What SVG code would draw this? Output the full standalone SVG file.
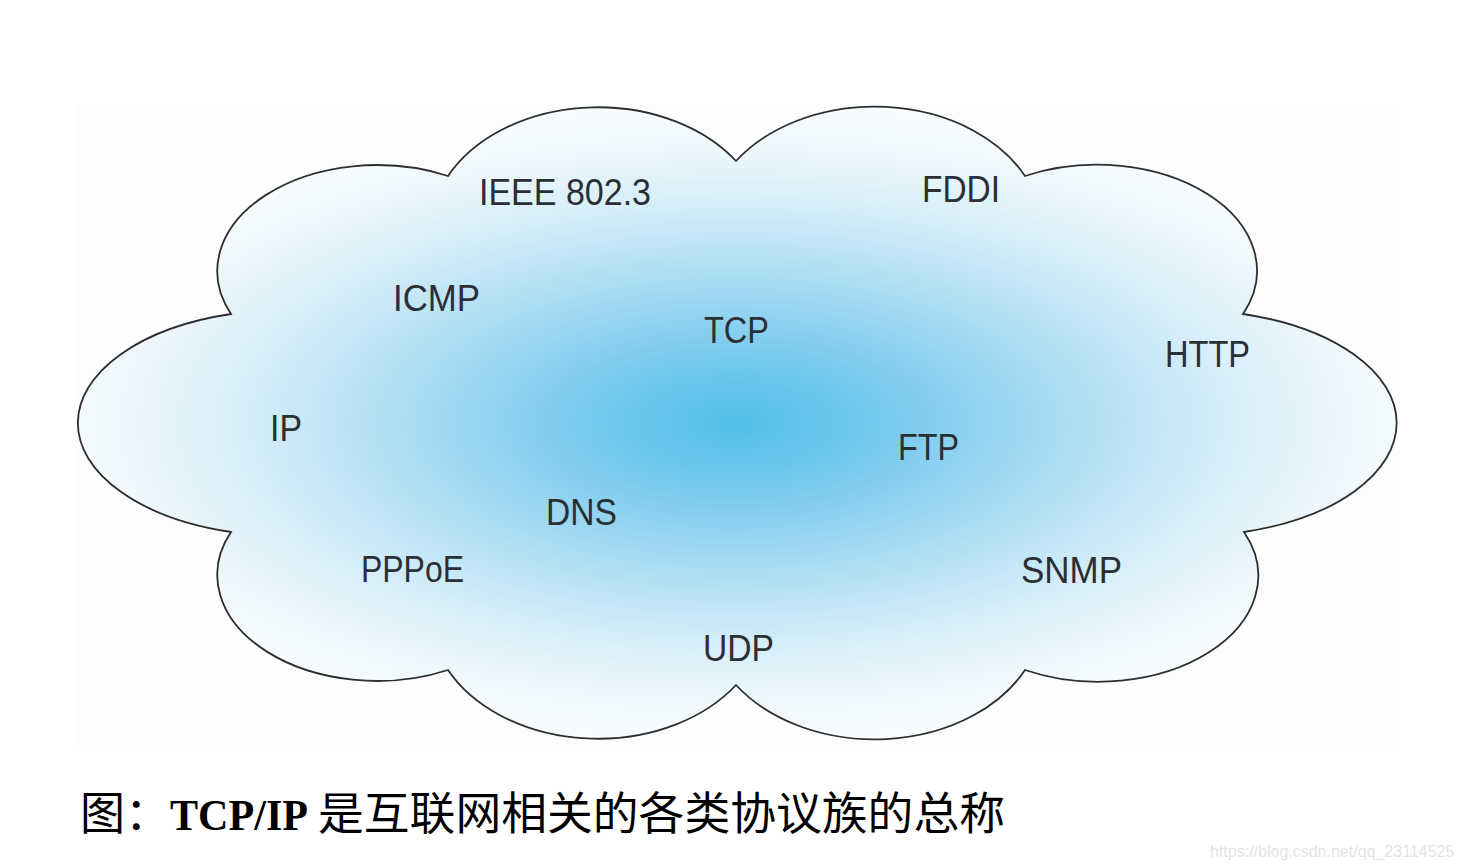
<svg xmlns="http://www.w3.org/2000/svg" width="1462" height="868" viewBox="0 0 1462 868">
  <defs>
    <radialGradient id="sky" gradientUnits="userSpaceOnUse" cx="736" cy="423" r="760" gradientTransform="translate(0,423) scale(1,0.45) translate(0,-423)">
      <stop offset="0" stop-color="#50bfea"/>
      <stop offset="0.22" stop-color="#7ccbee"/>
      <stop offset="0.45" stop-color="#afdef4"/>
      <stop offset="0.65" stop-color="#d6eef9"/>
      <stop offset="0.82" stop-color="#eff8fc"/>
      <stop offset="1" stop-color="#ffffff"/>
    </radialGradient>
    <style>
      .lbl { font-family: "Liberation Sans", Arial, sans-serif; font-size: 36px; fill: #2b2f33; }
      .cloud { fill: url(#sky); stroke: #2e2e2e; stroke-width: 1.8; stroke-linejoin: miter; }
      .cap { font-family: "Liberation Serif", "Noto Sans CJK SC", serif; font-size: 45px; fill: #000000; }
      .capb { font-family: "Liberation Serif", "Times New Roman", serif; font-size: 45px; font-weight: bold; fill: #000000; }
      .wm { font-family: "Liberation Sans", Arial, sans-serif; font-size: 16px; fill: #e4e4e4; }
    </style>
  </defs>
  <rect width="1462" height="868" fill="#ffffff"/>
  <rect x="76" y="104" width="1324" height="642" fill="#fcfdfe"/>

  <g id="cloud">
    <path class="cloud" d="M231,314 A160,106 0 0 1 448,176 A168,125 0 0 1 736,161 A168,125 0 0 1 1025,176 A160,106 0 0 1 1243,314 A208,113 0 0 1 1244,532 A160,106 0 0 1 1025,670 A168,125 0 0 1 736,685 A168,125 0 0 1 448,670 A160,106 0 0 1 231,532 A208,113 0 0 1 231,314 Z"/>
  </g>

  <g id="ieee"><text class="lbl" x="479" y="205" textLength="172" lengthAdjust="spacingAndGlyphs">IEEE 802.3</text></g>
  <g id="fddi"><text class="lbl" x="922" y="202" textLength="78" lengthAdjust="spacingAndGlyphs">FDDI</text></g>
  <g id="icmp"><text class="lbl" x="393" y="311" textLength="87" lengthAdjust="spacingAndGlyphs">ICMP</text></g>
  <g id="tcp"><text class="lbl" x="704" y="343" textLength="65" lengthAdjust="spacingAndGlyphs">TCP</text></g>
  <g id="http"><text class="lbl" x="1165" y="367" textLength="85" lengthAdjust="spacingAndGlyphs">HTTP</text></g>
  <g id="ip"><text class="lbl" x="270" y="441" textLength="32" lengthAdjust="spacingAndGlyphs">IP</text></g>
  <g id="ftp"><text class="lbl" x="898" y="460" textLength="61" lengthAdjust="spacingAndGlyphs">FTP</text></g>
  <g id="dns"><text class="lbl" x="546" y="525" textLength="71" lengthAdjust="spacingAndGlyphs">DNS</text></g>
  <g id="pppoe"><text class="lbl" x="361" y="582" textLength="103" lengthAdjust="spacingAndGlyphs">PPPoE</text></g>
  <g id="snmp"><text class="lbl" x="1021" y="583" textLength="101" lengthAdjust="spacingAndGlyphs">SNMP</text></g>
  <g id="udp"><text class="lbl" x="703" y="661" textLength="71" lengthAdjust="spacingAndGlyphs">UDP</text></g>

  <g id="caption">
    <text class="cap" x="80" y="830">图：</text>
    <text class="capb" x="170" y="830" textLength="138" lengthAdjust="spacingAndGlyphs">TCP/IP</text>
    <text class="cap" x="318" y="830" textLength="687" lengthAdjust="spacingAndGlyphs">是互联网相关的各类协议族的总称</text>
  </g>

  <g id="watermark">
    <text class="wm" x="1210" y="857">https://blog.csdn.net/qq_23114525</text>
  </g>
</svg>
